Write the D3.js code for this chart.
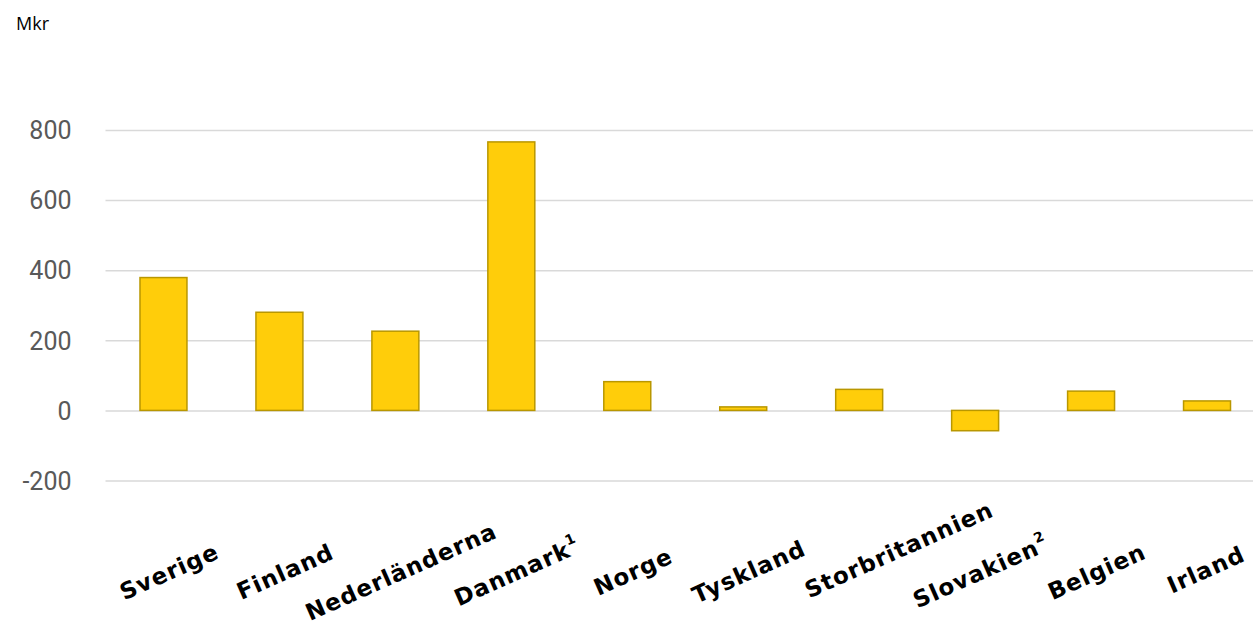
<!DOCTYPE html>
<html>
<head>
<meta charset="utf-8">
<script src="https://cdn.jsdelivr.net/npm/d3@7"></script>
<style>
  body { margin: 0; background: #fff; }
  svg { display: block; }
</style>
</head>
<body>
<script>
  "use strict";
  var countries = ['Sverige', 'Finland', 'Nederländerna', 'Danmark', 'Norge', 'Tyskland',
                   'Storbritannien', 'Slovakien', 'Belgien', 'Irland'];
  var footnotes = ['', '', '', '1', '', '', '', '2', '', ''];
  var values = [379, 280, 226, 766, 82, 10, 60, -58, 55, 27];
  var y_ticks = [-200, 0, 200, 400, 600, 800];
  var unit_label = 'Mkr';

  var width = 1253,
      height = 627;
  var plot_left = 105.5,
      plot_right = 1265;
  var bar_fill = '#FFCD0A';
  var bar_stroke = '#B99700';
  var grid_color = '#D9D9D9';
  var label_angle = -24;

  var svg = d3.select('body')
    .append('svg')
    .attr('width', width)
    .attr('height', height);

  var x = d3.scaleBand()
    .domain(countries)
    .range([plot_left, plot_right])
    .paddingInner(0.595)
    .paddingOuter(0.2975);

  var y = d3.scaleLinear()
    .domain([-200, 800])
    .range([480.5, 130]);

  // gridlines + tick labels
  var y_axis = svg.append('g')
    .attr('transform', 'translate(' + plot_left + ',0)')
    .call(d3.axisLeft(y)
      .tickValues(y_ticks)
      .tickSize(-(width - plot_left))
      .tickPadding(34)
      .tickFormat(d3.format('d')));

  y_axis.select('.domain').remove();
  y_axis.selectAll('.tick line')
    .attr('stroke', grid_color)
    .attr('stroke-width', 1.5);
  y_axis.selectAll('.tick text')
    .attr('fill', '#595959')
    .attr('font-family', 'Roboto, sans-serif')
    .attr('font-size', '25px')
    .attr('dy', '0.35em')
    .text(function(d) { return d < 0 ? '-' + Math.abs(d) : d; });

  svg.append('text')
    .attr('x', 16)
    .attr('y', 30)
    .attr('font-family', '"Open Sans", sans-serif')
    .attr('font-size', '18px')
    .attr('fill', '#000')
    .text(unit_label);

  // bars
  svg.selectAll('rect.bar')
    .data(values)
    .enter()
    .append('rect')
    .attr('class', 'bar')
    .attr('x', function(d, i) { return x(countries[i]); })
    .attr('width', x.bandwidth())
    .attr('y', function(d) { return y(Math.max(d, 0)); })
    .attr('height', function(d) { return Math.abs(y(d) - y(0)); })
    .attr('fill', bar_fill)
    .attr('stroke', bar_stroke)
    .attr('stroke-width', 1.5);

  // rotated category labels
  var labels = svg.selectAll('text.cat')
    .data(countries)
    .enter()
    .append('text')
    .attr('class', 'cat')
    .attr('font-family', '"DejaVu Sans", sans-serif')
    .attr('font-weight', 700)
    .attr('font-size', '23px')
    .attr('letter-spacing', '1px')
    .attr('fill', '#000')
    .attr('text-anchor', 'middle');

  labels.append('tspan').text(function(d) { return d; });
  labels.append('tspan')
    .attr('font-size', '14px')
    .attr('dy', '-0.8em')
    .text(function(d, i) { return footnotes[i]; });

  var rad = Math.abs(label_angle) * Math.PI / 180;
  labels.attr('transform', function(d) {
    var cx = x(d) + x.bandwidth() / 2 + 9;
    var cy = 579;
    if (d === 'Storbritannien') { cx += 34; cy -= 22; }
    // keep the upper right end of the label inside the picture
    var half = this.getComputedTextLength() / 2;
    var right_end = cx + half * Math.cos(rad) + 8 * Math.sin(rad);
    if (right_end > width - 3) {
      var shift = right_end - (width - 3);
      cx -= shift;
      cy -= shift * 0.3;
    }
    return 'translate(' + cx + ',' + cy + ') rotate(' + label_angle + ')';
  });
</script>
</body>
</html>
